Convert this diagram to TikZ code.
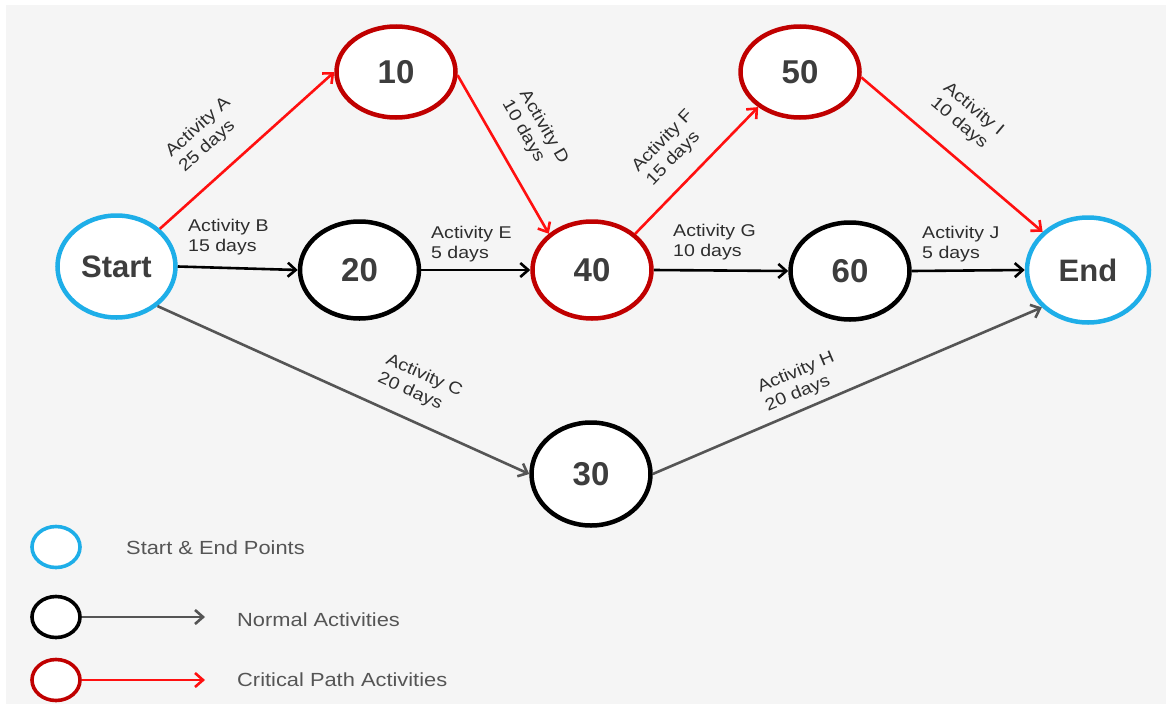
\documentclass[tikz,border=0pt]{standalone}
\usepackage{fontspec}
\setmainfont{Liberation Sans}
\newfontfamily\labelfont[FakeStretch=1.15]{Liberation Sans}
\usetikzlibrary{shapes.geometric,arrows.meta}
\definecolor{bgray}{HTML}{F5F5F5}
\definecolor{termblue}{HTML}{1EAEE8}
\definecolor{critring}{HTML}{C00000}
\definecolor{critline}{HTML}{FF1010}
\definecolor{normline}{HTML}{555555}
\definecolor{txt}{HTML}{2E2E2E}
\definecolor{numtxt}{HTML}{3D3D3D}
\definecolor{keytxt}{HTML}{555555}
\begin{document}
\begin{tikzpicture}[x=1pt,y=-1pt,
  evt/.style={ellipse, draw, line width=4.5pt, fill=white, inner sep=0pt,
    minimum width=119pt, minimum height=97pt,
    font={\fontsize{33}{33}\selectfont\bfseries}, text=numtxt},
  term/.style={evt, draw=termblue, font={\fontsize{31}{31}\selectfont\bfseries}},
  crit/.style={evt, draw=critring},
  norm/.style={evt, draw=black},
  act/.style={line width=2.6pt, -{Straight Barb[length=8pt,width=14pt]}},
  lbl/.style={font={\labelfont\fontsize{17}{20}\selectfont}, text=txt, align=left, inner sep=0pt},
  keynode/.style={ellipse, draw, line width=3.6pt, fill=white, inner sep=0pt,
    minimum width=48pt, minimum height=41pt},
  keytext/.style={font={\labelfont\fontsize{19}{22}\selectfont}, text=keytxt, inner sep=0pt, anchor=west}
]
% canvas
\fill[white] (0,0) rectangle (1166,704);
\fill[bgray] (6,5) rectangle (1166,704);
\useasboundingbox (0,0) rectangle (1166,704);

% events
\node[term, minimum width=118pt, minimum height=102pt] (start) at (116.5,266.5) {Start};
\node[crit, minimum height=91pt] (n10) at (396,72) {10};
\node[norm] (n20) at (359.5,270) {20};
\node[norm, minimum height=103pt] (n30) at (591,474) {30};
\node[crit] (n40) at (592,270) {40};
\node[crit, minimum height=91pt] (n50) at (800,72) {50};
\node[norm] (n60) at (850,271) {60};
\node[term, minimum width=122pt, minimum height=105pt] (end) at (1088,270) {End};

% critical path activities
\draw[act, critline] (start.41) -- (n10.west);
\draw[act, critline] (n10.-3) -- (n40.140);
\draw[act, critline] (n40.40) -- (n50.220);
\draw[act, critline] (n50.-5) -- (end.140);
% normal activities
\draw[act, black] (start.east) -- (n20.west);
\draw[act, black] (n20.east) -- (n40.west);
\draw[act, black] (n40.east) -- (n60.west);
\draw[act, black] (n60.east) -- (end.west);
\draw[act, normline] (start.-44) -- (n30.west);
\draw[act, normline] (n30.east) -- (end.219);

% activity labels
\node[lbl, rotate=42] (lA) at (205,135) {Activity A\\25 days};
\node[lbl, anchor=north west] (lB) at (188,219) {Activity B\\15 days};
\node[lbl, rotate=-24] (lC) at (420,385) {Activity C\\20 days};
\node[lbl, rotate=-60] (lD) at (535,132) {Activity D\\10 days};
\node[lbl, anchor=north west] (lE) at (431,226) {Activity E\\5 days};
\node[lbl, rotate=46] (lF) at (670,148) {Activity F\\15 days};
\node[lbl, anchor=north west] (lG) at (673,224) {Activity G\\10 days};
\node[lbl, rotate=23] (lH) at (800,382) {Activity H\\20 days};
\node[lbl, rotate=-40] (lI) at (967,117) {Activity I\\10 days};
\node[lbl, anchor=north west] (lJ) at (922,226) {Activity J\\5 days};

% key
\node[keynode, draw=termblue] (k1) at (56,547) {};
\node[keynode, draw=black] (k2) at (56,617) {};
\node[keynode, draw=critring] (k3) at (56,680) {};
\coordinate (k2e) at (205,617);
\coordinate (k3e) at (205,680);
\draw[act, normline] (k2.east) -- (k2e);
\draw[act, critline] (k3.east) -- (k3e);
\node[keytext] (t1) at (126,548) {Start \& End Points};
\node[keytext] (t2) at (237,620) {Normal Activities};
\node[keytext] (t3) at (237,680) {Critical Path Activities};
\end{tikzpicture}
\end{document}
